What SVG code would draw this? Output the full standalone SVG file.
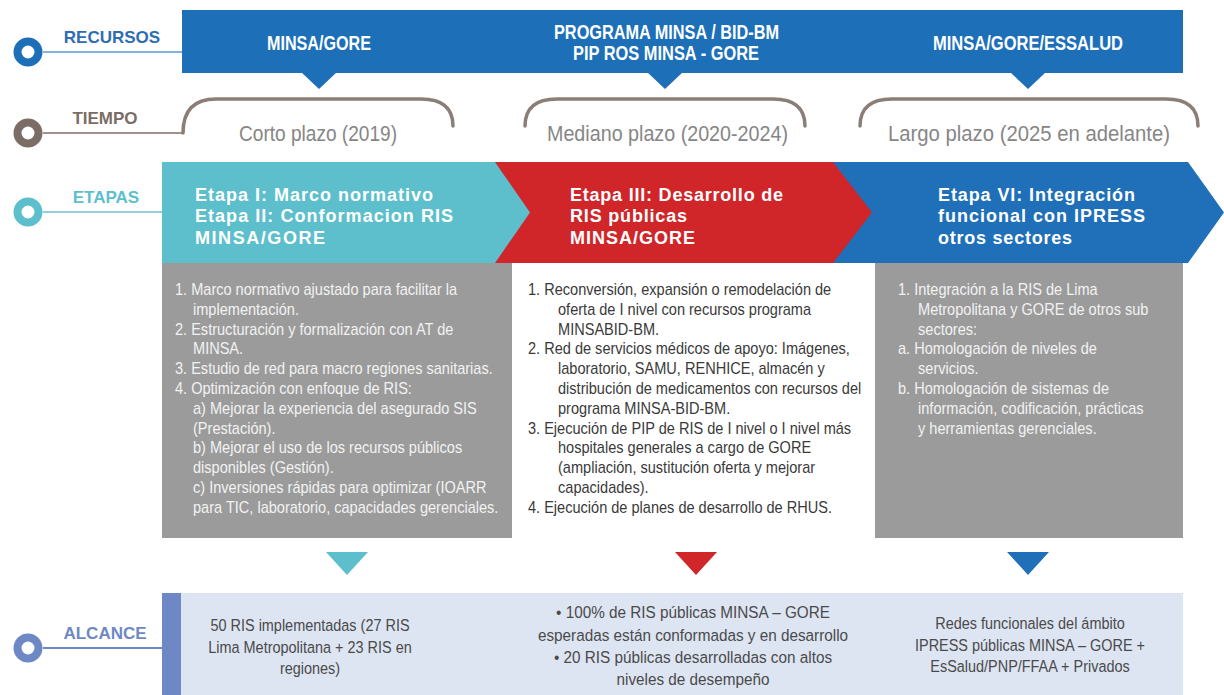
<svg xmlns="http://www.w3.org/2000/svg" width="1224" height="695" viewBox="0 0 1224 695">
<style>
text{font-family:"Liberation Sans",Arial,sans-serif}
.lbl{font-size:17px;font-weight:bold;text-anchor:middle}
.bar{font-size:20px;font-weight:bold;fill:#fff}
.time{font-size:22px;fill:#868686}
.stage{font-size:18px;font-weight:bold;fill:#fff}
.bodyw{font-size:16px;fill:#f2f2f2}
.bodyd{font-size:16px;fill:#3a3a3a}
.alc{font-size:17px;fill:#4a4a4a;text-anchor:middle}
.ring{fill:#fff;stroke-width:8}
.brace{fill:none;stroke:#8b7e76;stroke-width:3.5;stroke-linecap:round}
</style>
<rect width="1224" height="695" fill="#fff"/>

<g id="connectors">
  <line x1="43" y1="52" x2="182" y2="52" stroke="#86b3de" stroke-width="2"/>
  <line x1="43" y1="133" x2="183" y2="133" stroke="#9d928c" stroke-width="2"/>
  <line x1="43" y1="212" x2="162" y2="212" stroke="#8fd0d9" stroke-width="2"/>
  <line x1="43" y1="648" x2="162" y2="648" stroke="#6e88c6" stroke-width="2"/>
</g>

<g id="row-labels">
  <circle class="ring" cx="28" cy="52" r="10.5" stroke="#1d6fb8"/>
  <text class="lbl" x="112" y="43" fill="#2e6db4">RECURSOS</text>
  <circle class="ring" cx="28" cy="133" r="10.5" stroke="#7b6d66"/>
  <text class="lbl" x="105" y="124" fill="#7b6d66">TIEMPO</text>
  <circle class="ring" cx="28" cy="212" r="10.5" stroke="#5dbfcc"/>
  <text class="lbl" x="106" y="203" fill="#5dbfcc">ETAPAS</text>
  <circle class="ring" cx="28" cy="648" r="10.5" stroke="#6e88c6"/>
  <text class="lbl" x="105" y="639" fill="#6e88c6">ALCANCE</text>
</g>

<g id="recursos">
  <rect x="182" y="10" width="1001" height="63" fill="#1d6fb8"/>
  <polygon points="301,72 337,72 319,89" fill="#1d6fb8"/>
  <polygon points="647,72 683,72 665,89" fill="#1d6fb8"/>
  <polygon points="1010,72 1046,72 1028,89" fill="#1d6fb8"/>
  <text class="bar" x="267" y="50" textLength="104" lengthAdjust="spacingAndGlyphs">MINSA/GORE</text>
  <text class="bar" x="554" y="39" textLength="225" lengthAdjust="spacingAndGlyphs">PROGRAMA MINSA / BID-BM</text>
  <text class="bar" x="573" y="60" textLength="186" lengthAdjust="spacingAndGlyphs">PIP ROS MINSA - GORE</text>
  <text class="bar" x="933" y="50" textLength="190" lengthAdjust="spacingAndGlyphs">MINSA/GORE/ESSALUD</text>
</g>

<g id="tiempo">
  <path class="brace" d="M183,133 C183,111 193,99 216,99 L421,99 C443,99 453,109 453,126"/>
  <path class="brace" d="M525,126 C525,109 535,99 557,99 L773,99 C795,99 805,109 805,126"/>
  <path class="brace" d="M860,126 C860,109 870,99 892,99 L1166,99 C1188,99 1198,109 1198,126"/>
  <text class="time" x="239" y="141" textLength="158" lengthAdjust="spacingAndGlyphs">Corto plazo (2019)</text>
  <text class="time" x="547" y="141" textLength="241" lengthAdjust="spacingAndGlyphs">Mediano plazo (2020-2024)</text>
  <text class="time" x="888" y="141" textLength="282" lengthAdjust="spacingAndGlyphs">Largo plazo (2025 en adelante)</text>
</g>

<g id="etapa-6">
  <polygon points="833,162 1188,162 1224,212.5 1188,263 833,263" fill="#1f70b8"/>
  <text class="stage" x="938" y="200.5" textLength="197">Etapa VI: Integración</text>
  <text class="stage" x="938" y="222" textLength="207">funcional con IPRESS</text>
  <text class="stage" x="938" y="244" textLength="134">otros sectores</text>
</g>
<g id="etapa-3">
  <polygon points="495,162 833,162 872,212.5 833,263 495,263" fill="#d0262a"/>
  <text class="stage" x="570" y="200.5" textLength="213">Etapa III: Desarrollo de</text>
  <text class="stage" x="570" y="222" textLength="117">RIS públicas</text>
  <text class="stage" x="570" y="244" textLength="125">MINSA/GORE</text>
</g>
<g id="etapa-1-2">
  <polygon points="162,162 495,162 530,212.5 495,263 162,263" fill="#5dbfcc"/>
  <text class="stage" x="195" y="200.5" textLength="238">Etapa I: Marco normativo</text>
  <text class="stage" x="195" y="222" textLength="258">Etapa II: Conformacion RIS</text>
  <text class="stage" x="195" y="244" textLength="130">MINSA/GORE</text>
</g>

<g id="detalle-1">
  <rect x="162" y="263" width="350" height="275" fill="#9b9b9b"/>
  <g transform="translate(175 0) scale(0.91 1)">
    <text class="bodyw" x="0" y="295">1. Marco normativo ajustado para facilitar la</text>
    <text class="bodyw" x="19.8" y="314.8">implementación.</text>
    <text class="bodyw" x="0" y="334.6">2. Estructuración y formalización con AT de</text>
    <text class="bodyw" x="19.8" y="354.4">MINSA.</text>
    <text class="bodyw" x="0" y="374.2">3. Estudio de red para macro regiones sanitarias.</text>
    <text class="bodyw" x="0" y="394">4. Optimización con enfoque de RIS:</text>
    <text class="bodyw" x="19.8" y="413.8">a) Mejorar la experiencia del asegurado SIS</text>
    <text class="bodyw" x="19.8" y="433.6">(Prestación).</text>
    <text class="bodyw" x="19.8" y="453.4">b) Mejorar el uso de los recursos públicos</text>
    <text class="bodyw" x="19.8" y="473.2">disponibles (Gestión).</text>
    <text class="bodyw" x="19.8" y="493">c) Inversiones rápidas para optimizar (IOARR</text>
    <text class="bodyw" x="19.8" y="512.8">para TIC, laboratorio, capacidades gerenciales.</text>
  </g>
</g>

<g id="detalle-2">
  <rect x="512" y="263" width="363" height="275" fill="#fff"/>
  <g transform="translate(528 0) scale(0.91 1)">
    <text class="bodyd" x="0" y="295">1. Reconversión, expansión o remodelación de</text>
    <text class="bodyd" x="33" y="314.8">oferta de I nivel con recursos programa</text>
    <text class="bodyd" x="33" y="334.6">MINSABID-BM.</text>
    <text class="bodyd" x="0" y="354.4">2. Red de servicios médicos de apoyo: Imágenes,</text>
    <text class="bodyd" x="33" y="374.2">laboratorio, SAMU, RENHICE, almacén y</text>
    <text class="bodyd" x="33" y="394">distribución de medicamentos con recursos del</text>
    <text class="bodyd" x="33" y="413.8">programa MINSA-BID-BM.</text>
    <text class="bodyd" x="0" y="433.6">3. Ejecución de PIP de RIS de I nivel o I nivel más</text>
    <text class="bodyd" x="33" y="453.4">hospitales generales a cargo de GORE</text>
    <text class="bodyd" x="33" y="473.2">(ampliación, sustitución oferta y mejorar</text>
    <text class="bodyd" x="33" y="493">capacidades).</text>
    <text class="bodyd" x="0" y="512.8">4. Ejecución de planes de desarrollo de RHUS.</text>
  </g>
</g>

<g id="detalle-3">
  <rect x="875" y="263" width="308" height="275" fill="#9b9b9b"/>
  <g transform="translate(898 0) scale(0.91 1)">
    <text class="bodyw" x="0" y="295">1. Integración a la RIS de Lima</text>
    <text class="bodyw" x="22" y="314.8">Metropolitana y GORE de otros sub</text>
    <text class="bodyw" x="22" y="334.6">sectores:</text>
    <text class="bodyw" x="0" y="354.4">a. Homologación de niveles de</text>
    <text class="bodyw" x="22" y="374.2">servicios.</text>
    <text class="bodyw" x="0" y="394">b. Homologación de sistemas de</text>
    <text class="bodyw" x="22" y="413.8">información, codificación, prácticas</text>
    <text class="bodyw" x="22" y="433.6">y herramientas gerenciales.</text>
  </g>
</g>

<g id="flechas">
  <polygon points="326,552 368,552 347,575" fill="#5dbfcc"/>
  <polygon points="675,552 717,552 696,575" fill="#d0262a"/>
  <polygon points="1007,552 1049,552 1028,575" fill="#1f70b8"/>
</g>

<g id="alcance">
  <rect x="162" y="593" width="1021" height="102" fill="#dde5f3"/>
  <rect x="162" y="593" width="19" height="102" fill="#6e88c6"/>
  <g transform="translate(310 0) scale(0.85 1)">
    <text class="alc" x="0" y="631">50 RIS implementadas (27 RIS</text>
    <text class="alc" x="0" y="653">Lima Metropolitana + 23 RIS en</text>
    <text class="alc" x="0" y="674">regiones)</text>
  </g>
  <g transform="translate(693 0) scale(0.9 1)">
    <text class="alc" x="0" y="618">• 100% de RIS públicas MINSA – GORE</text>
    <text class="alc" x="0" y="641">esperadas están conformadas y en desarrollo</text>
    <text class="alc" x="0" y="663">• 20 RIS públicas desarrolladas con altos</text>
    <text class="alc" x="0" y="685">niveles de desempeño</text>
  </g>
  <g transform="translate(1030 0) scale(0.85 1)">
    <text class="alc" x="0" y="629">Redes funcionales del ámbito</text>
    <text class="alc" x="0" y="651">IPRESS públicas MINSA – GORE +</text>
    <text class="alc" x="0" y="672">EsSalud/PNP/FFAA + Privados</text>
  </g>
</g>
</svg>
